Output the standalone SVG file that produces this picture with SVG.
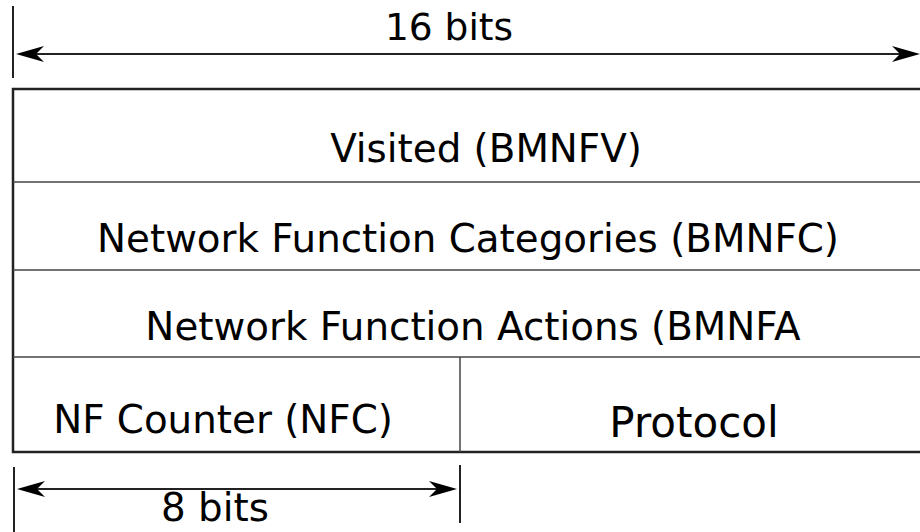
<svg xmlns="http://www.w3.org/2000/svg" width="920" height="532" viewBox="0 0 920 532">
<style>
.t{font-family:"DejaVu Sans",sans-serif;font-size:38.8px;fill:#000;text-anchor:middle}
.b{stroke:#222;stroke-width:2.5;fill:none}
.d{stroke:#444;stroke-width:1.5;fill:none}
.a{stroke:#222;stroke-width:2;fill:none}
.h{fill:#000;stroke:none}
</style>
<rect width="920" height="532" fill="#fff"/>
<g id="dim16">
<line class="a" x1="13" y1="6" x2="13" y2="78"/>
<line class="a" x1="20" y1="54" x2="905" y2="54"/>
<path class="h" d="M16,54 L44,46 L36,54 L44,62 Z"/>
<path class="h" d="M920,54 L892,46 L900,54 L892,62 Z"/>
<text class="t" x="449" y="40" style="font-size:37.5px">16 bits</text>
</g>
<g id="table">
<path class="b" d="M922,89 H13 V452 H922"/>
<line class="d" x1="13" y1="182" x2="922" y2="182"/>
<line class="d" x1="13" y1="270" x2="922" y2="270"/>
<line class="d" x1="13" y1="357" x2="922" y2="357"/>
<line class="d" x1="460" y1="357" x2="460" y2="452"/>
</g>
<g id="visited"><text class="t" x="486" y="162">Visited (BMNFV)</text></g>
<g id="categories"><text class="t" x="468" y="252">Network Function Categories (BMNFC)</text></g>
<g id="actions"><text class="t" x="473" y="340">Network Function Actions (BMNFA</text></g>
<g id="counter"><text class="t" x="223" y="433">NF Counter (NFC)</text></g>
<g id="protocol"><text class="t" x="694" y="437" style="font-size:42px">Protocol</text></g>
<g id="dim8">
<line class="a" x1="14" y1="467" x2="14" y2="532"/>
<line class="a" x1="460" y1="465" x2="460" y2="523"/>
<line class="a" x1="22" y1="489" x2="445" y2="489"/>
<path class="h" d="M17,489 L45,481 L37,489 L45,497 Z"/>
<path class="h" d="M457,489 L429,481 L437,489 L429,497 Z"/>
<text class="t" x="215" y="521">8 bits</text>
</g>
</svg>
